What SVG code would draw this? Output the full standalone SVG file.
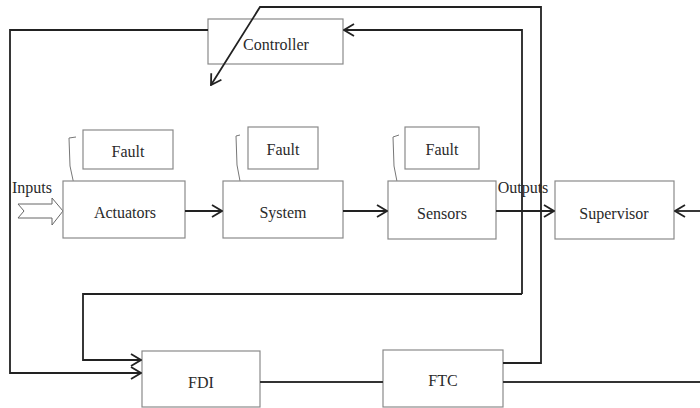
<svg xmlns="http://www.w3.org/2000/svg" width="700" height="408" viewBox="0 0 700 408" font-family="'Liberation Serif', 'Times New Roman', serif">
<defs>
<marker id="ah" markerWidth="12" markerHeight="14" refX="11" refY="7" orient="auto" markerUnits="userSpaceOnUse">
<path d="M1,1 L11,7 L1,13" fill="none" stroke="#222" stroke-width="1.8"/>
</marker>
<style>
.box{fill:#fff;stroke:#8a8a8a;stroke-width:1.2}
.lbl{font-family:'Liberation Serif','Times New Roman',serif;font-size:16px;fill:#2a2a2a;text-anchor:middle;dominant-baseline:central}
.ln{fill:none;stroke:#333;stroke-width:1.8}
.ar{fill:none;stroke:#222;stroke-width:1.8;marker-end:url(#ah)}
.br{fill:none;stroke:#777;stroke-width:1}
</style>
</defs>
<rect width="700" height="408" fill="#fff"/>
<g id="inputs">
<polygon points="18,204 52,204 52,198 63,211 52,225 52,218 18,218 24,211" fill="#fff" stroke="#666" stroke-width="1"/>
<text class="lbl" x="32" y="187">Inputs</text>
</g>
<g id="controller"><rect class="box" x="208" y="19" width="135" height="45"/><text class="lbl" x="276" y="44">Controller</text></g>
<g id="fault1"><rect class="box" x="83" y="130" width="90" height="39"/><text class="lbl" x="128" y="151">Fault</text><path class="br" d="M76,137 L69,138 L70,166 L76,194"/></g>
<g id="actuators"><rect class="box" x="63" y="181" width="122" height="57"/><text class="lbl" x="125" y="212">Actuators</text></g>
<g id="fault2"><rect class="box" x="248" y="127" width="70" height="42"/><text class="lbl" x="283" y="149">Fault</text><path class="br" d="M240,135 L236,136 L237,165 L243,197"/></g>
<g id="system"><rect class="box" x="223" y="181" width="120" height="57"/><text class="lbl" x="283" y="212">System</text></g>
<g id="fault3"><rect class="box" x="405" y="127" width="74" height="42"/><text class="lbl" x="442" y="149">Fault</text><path class="br" d="M399,135 L393,137 L394,166 L400,197"/></g>
<g id="sensors"><rect class="box" x="388" y="181" width="108" height="58"/><text class="lbl" x="442" y="213">Sensors</text></g>
<g id="supervisor"><rect class="box" x="555" y="181" width="119" height="58"/><text class="lbl" x="614" y="213">Supervisor</text></g>
<g id="fdi"><rect class="box" x="142" y="351" width="118" height="56"/><text class="lbl" x="201" y="382">FDI</text></g>
<g id="ftc"><rect class="box" x="383" y="350" width="120" height="57"/><text class="lbl" x="443" y="380">FTC</text></g>
<g id="connectors">
<polyline class="ar" points="208,30 10,30 10,373 141,373"/>
<polyline class="ar" points="503,363 541,363 541,7 260,7 211,85"/>
<polyline class="ar" points="522,294 522,30 344,30"/>
<polyline class="ar" points="522,294 83,294 83,360 141,360"/>
<line class="ar" x1="185" y1="211" x2="222" y2="211"/>
<line class="ar" x1="343" y1="211" x2="387" y2="211"/>
<line class="ar" x1="496" y1="211" x2="554" y2="211"/>
<line class="ar" x1="700" y1="211" x2="675" y2="211"/>
<line class="ln" x1="260" y1="382" x2="383" y2="382"/>
<line class="ln" x1="503" y1="382" x2="700" y2="382"/>
</g>
<text class="lbl" x="523" y="187">Outputs</text>
</svg>
